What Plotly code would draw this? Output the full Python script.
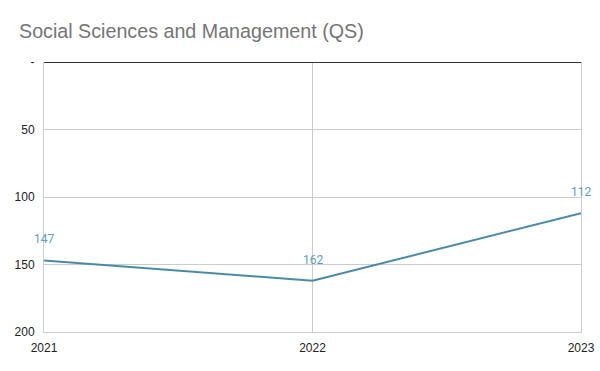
import plotly.graph_objects as go

years = [2021, 2022, 2023]
ranks = [147, 162, 112]
labels = ["147", "162", "112"]
ytick_vals = [0, 50, 100, 150, 200]
ytick_text = ["-", "50", "100", "150", "200"]

line_color = "#4a8aa8"
label_color = "#5f9cbf"

fig = go.Figure()
fig.add_trace(go.Scatter(x=years, y=ranks, mode="lines",
                         line=dict(color=line_color, width=2),
                         hoverinfo="skip", showlegend=False, cliponaxis=False))

for x, y, t in zip(years, ranks, labels):
    fig.add_annotation(x=x, y=y, text=t, showarrow=False, yshift=21,
                       font=dict(family="Roboto", size=12, color=label_color))

fig.update_layout(
    width=600, height=371,
    margin=dict(l=44, r=19, t=62, b=39, autoexpand=False),
    paper_bgcolor="white", plot_bgcolor="white",
    title=dict(text="Social Sciences and Management (QS)",
               x=19/600, xanchor="left", y=1 - 31/371, yanchor="middle",
               font=dict(family="Liberation Sans, Arial", size=19.7, color="#757575")),
    xaxis=dict(range=[2021, 2023], tickvals=years, ticktext=[str(y) for y in years],
               showgrid=True, gridcolor="#cccccc", gridwidth=1, automargin=False,
               zeroline=False, showline=True, linecolor="#cccccc", linewidth=1,
               ticks="", ticklabelstandoff=5,
               tickfont=dict(family="Liberation Sans, Arial", size=12, color="#222222")),
    yaxis=dict(range=[200, 0], tickvals=ytick_vals, ticktext=ytick_text,
               showgrid=True, gridcolor="#cccccc", gridwidth=1, automargin=False,
               zeroline=True, zerolinecolor="#333333", zerolinewidth=1,
               showline=True, linecolor="#cccccc", linewidth=1, mirror=True,
               ticks="", ticklabelstandoff=6,
               tickfont=dict(family="Liberation Sans, Arial", size=12, color="#222222")),
)

fig.write_html("out.html")
